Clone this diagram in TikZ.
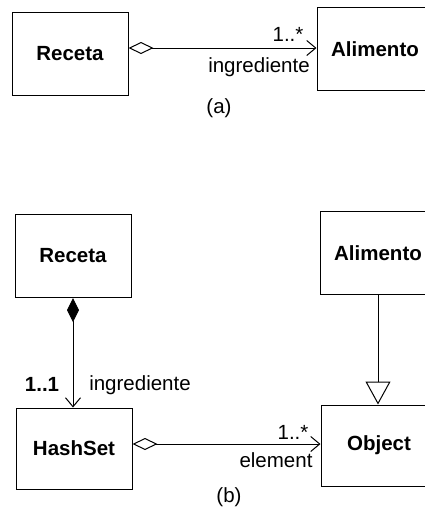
\documentclass[tikz,border=0pt]{standalone}
\usepackage{fontspec}
\setmainfont{Liberation Sans}
\usetikzlibrary{arrows.meta}
\begin{document}
\begin{tikzpicture}[x=1pt,y=-1pt,
  every node/.style={font=\fontsize{20.5}{24}\selectfont},
  cls/.style={draw,line width=1pt,minimum width=116pt,minimum height=83pt,
              inner sep=0pt,font=\fontsize{20.5}{24}\selectfont\bfseries},
  lbl/.style={inner sep=0pt},
  link/.style={line width=1pt},
  agg/.style={link,{Diamond[open,length=25pt,width=12pt,line width=1pt]}-{Straight Barb[length=9pt,width=15pt,line width=1pt]}},
  comp/.style={link,{Diamond[length=24pt,width=12pt]}-{Straight Barb[length=9pt,width=15pt,line width=1pt]}},
  inh/.style={link,-{Triangle[open,length=23pt,width=25pt,line width=1pt]}}]
\useasboundingbox (0,0) rectangle (425,512);
\clip (0,0) rectangle (425,512);
\fill[white] (0,0) rectangle (425,512);

% (a) direct association
\node[cls] (recA) at (70,53.5) {Receta};
\node[cls] (aliA) at (375,49) {Alimento};
\draw[agg] (recA.east |- 0,48) -- (aliA.west |- 0,48);
\node[lbl] (multA) at (288,34) {1..*};
\node[lbl] (roleA) at (259,67) {ingrediente};
\node[lbl] (capA) at (219,108) {(a)};

% (b) association through a HashSet
\node[cls] (recB) at (73,256) {Receta};
\node[cls] (aliB) at (378,253) {Alimento};
\node[cls,minimum height=81pt] (hashB) at (74,448.5) {HashSet};
\node[cls,minimum height=81pt] (objB) at (379,445.5) {Object};
\draw[comp] (recB.south -| 73,0) -- (hashB.north -| 73,0);
\draw[inh] (aliB.south -| 378,0) -- (objB.north -| 378,0);
\draw[agg] (hashB.east |- 0,444) -- (objB.west |- 0,444);
\node[lbl,font=\fontsize{20.5}{24}\selectfont\bfseries] (multB1) at (42,384) {1..1};
\node[lbl] (roleB1) at (140,385) {ingrediente};
\node[lbl] (multB2) at (293,432) {1..*};
\node[lbl] (roleB2) at (276,460) {element};
\node[lbl] (capB) at (229,497) {(b)};
\end{tikzpicture}
\end{document}
